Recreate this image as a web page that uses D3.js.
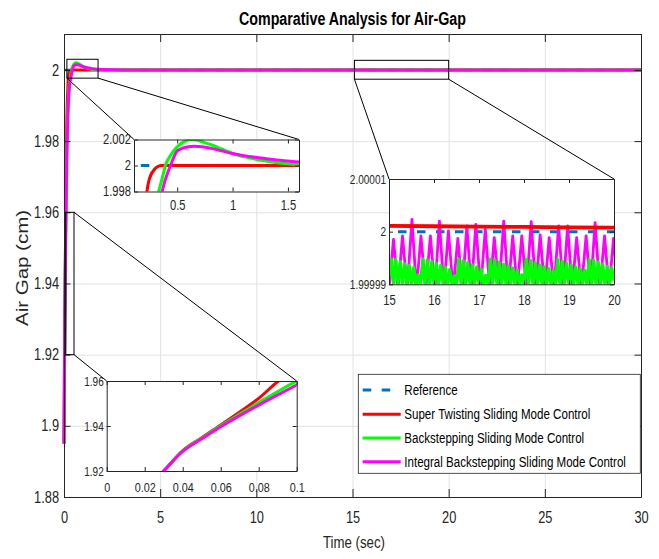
<!DOCTYPE html>
<html><head><meta charset="utf-8">
<script src="https://cdn.jsdelivr.net/npm/d3@7"></script>
<style>
body{margin:0;background:#fff}
svg{display:block}
text{font-family:"Liberation Sans",Arial,Helvetica,sans-serif}
</style>
</head><body>
<svg id="c" width="659" height="559"></svg>
<script>
// ---------------- DATA ----------------
const time = [0,0.01,0.02,0.03,0.04,0.05,0.06,0.07,0.08,0.09,0.1,0.12,0.15,0.2,0.227,0.25,0.3,0.333,0.35,0.364,0.394,0.4,0.44,0.5,0.55,0.62,0.65,0.7,0.77,0.83,0.9,1.0,1.1,1.26,1.4,1.5,1.6,2,3,5,10,15,20,25,30];
const superTwisting = [1.895,1.903,1.9115,1.92,1.9291,1.9348,1.9404,1.9462,1.9523,1.9597,1.9655,1.9755,1.9862,1.9950,1.9980,1.9990,1.99975,1.99995,2.0,
  2.0,2.0,2.0,2.0,2.0,2.0,2.0,2.0,2.0,2.0,2.0,2.0,2.0,2.0,2.0,2.0,2.0,2.0,2.0,2.0,2.0,2.0,2.0,2.0,2.0,2.0];
const backstepping = [1.895,1.903,1.9115,1.92,1.9289,1.9346,1.9401,1.9453,1.9504,1.9553,1.96,1.968,1.978,1.9885,1.9918,1.9942,1.9970,1.9980,1.99855,1.9990,2.0,2.00015,2.00078,2.00143,2.00178,2.0020,2.00199,2.0019,2.0017,2.00152,2.00127,2.00092,2.00068,2.0004,2.00022,2.00013,2.00006,
  2.0,2.0,2.0,2.0,2.0,2.0,2.0,2.0];
const integralBackstepping = [1.895,1.903,1.9115,1.92,1.9287,1.9343,1.9397,1.9446,1.9493,1.9538,1.9582,1.9662,1.9762,1.9870,1.9905,1.9930,1.9962,1.9972,1.9976,1.9980,1.99895,1.9991,2.0,2.00112,2.00133,2.00146,2.00149,2.00146,2.00139,2.00128,2.00113,2.00092,2.00076,2.00058,2.00042,2.00034,2.00026,2.0001,
  2.0,2.0,2.0,2.0,2.0,2.0,2.0];
const refTime = [0,30];
const refValue = [2,2];

// steady-state detail (15 .. 20 s)
const ssRedTime = [15,16,17,18,19,20];
const ssSuperTwisting = [2.0000011,2.00000103,2.00000096,2.00000089,2.00000082,2.00000075];
const ssIbsTime = [15.0,15.10,15.2,15.30,15.405,15.51,15.61,15.71,15.815,15.92,16.02,16.12,16.22,16.32,16.425,16.53,16.63,16.73,16.83,16.93,
  17.035,17.14,17.24,17.34,17.445,17.55,17.65,17.75,17.85,17.95,18.055,18.16,18.26,18.36,18.46,18.56,18.665,18.77,18.87,18.97,
  19.07,19.17,19.275,19.38,19.48,19.58,19.685,19.79,19.89,19.99,20.09];
const ssIntegralBackstepping = [1.999989,1.99999855,1.999989,1.99999918,1.999989,2.00000233,1.999989,1.99999918,1.999989,1.99999918,
  1.999989,2.000002,1.999989,2.00000013,1.999989,1.99999874,1.999989,2.00000107,1.999989,2.00000138,
  1.999989,2.00000044,1.999989,1.99999887,1.999989,2.000002,1.999989,1.99999918,1.999989,1.99999918,
  1.999989,2.00000189,1.999989,1.99999937,1.999989,1.99999887,1.999989,2.00000107,1.999989,2.00000107,
  1.999989,1.99999887,1.999989,1.99999918,1.999989,2.0000017,1.999989,1.99999918,1.999989,1.99999874,1.999989];
const ssBsStart = 15, ssBsStep = 0.05;
const ssBackstepping = [1.9999914,1.9999948,1.99999,1.9999947,1.9999902,1.9999943,1.9999899,1.9999939,1.9999901,1.9999936,
  1.9999898,1.9999932,1.99999,1.9999918,1.9999899,1.9999948,1.9999901,1.9999946,1.9999898,1.9999943,
  1.99999,1.999994,1.9999899,1.9999936,1.9999902,1.9999932,1.9999898,1.9999928,1.99999,1.9999916,
  1.9999899,1.9999948,1.9999901,1.9999945,1.9999898,1.9999941,1.9999901,1.9999937,1.9999899,1.9999933,
  1.99999,1.9999929,1.9999898,1.9999917,1.99999,1.9999948,1.9999901,1.9999946,1.9999899,1.9999942,
  1.9999902,1.9999938,1.9999898,1.9999935,1.9999901,1.9999931,1.9999899,1.9999927,1.99999,1.9999918,
  1.9999899,1.9999948,1.9999901,1.9999945,1.9999898,1.9999941,1.9999902,1.9999937,1.9999899,1.9999933,
  1.99999,1.999993,1.9999898,1.9999926,1.9999901,1.9999947,1.9999899,1.9999944,1.9999901,1.999994,
  1.9999898,1.9999937,1.99999,1.9999933,1.9999899,1.999993,1.9999902,1.9999927,1.9999898,1.9999947,
  1.99999,1.9999946,1.9999899,1.9999942,1.9999901,1.9999938,1.9999898,1.9999934,1.99999,1.9999931,1.9999907];

const xTicks = [0,5,10,15,20,25,30];
const xTickLabels = ["0","5","10","15","20","25","30"];
const yTicks = [1.88,1.9,1.92,1.94,1.96,1.98,2];
const yTickLabels = ["1.88","1.9","1.92","1.94","1.96","1.98","2"];

const in1XTicks = [0.5,1,1.5], in1XLabels = ["0.5","1","1.5"];
const in1YTicks = [1.998,2,2.002], in1YLabels = ["1.998","2","2.002"];
const in2XTicks = [15,16,17,18,19,20], in2XLabels = ["15","16","17","18","19","20"];
const in2YTicks = [1.99999,2,2.00001], in2YLabels = ["1.99999","2","2.00001"];
const in3XTicks = [0,0.02,0.04,0.06,0.08,0.1], in3XLabels = ["0","0.02","0.04","0.06","0.08","0.1"];
const in3YTicks = [1.92,1.94,1.96], in3YLabels = ["1.92","1.94","1.96"];

const seriesNames = ["Reference","Super Twisting Sliding Mode Control","Backstepping Sliding Mode Control","Integral Backstepping Sliding Mode Control"];
const seriesColors = ["#0072BD","#FF0000","#00FF00","#FF00FF"];

// ---------------- DRAW ----------------
const svg = d3.select('#c');
const defs = svg.append('defs');
const AX = '#262626';
const DASH = '8.5,10.5';
const M = {l:64, r:641, t:34, b:497};
const x = d3.scaleLinear().domain([0,30]).range([M.l, M.r]);
const y = d3.scaleLinear().domain([1.88, 2.0101]).range([M.b, M.t]);

function squeeze(sel, f){
  sel.each(function(){
    const L = this.getComputedTextLength();
    if (L > 0){ this.setAttribute('textLength', L*f); this.setAttribute('lengthAdjust','spacingAndGlyphs'); }
  });
}
function pts(ts, vs){ return ts.map((t,i)=>[t, vs[i]]); }
function ptsStep(start, step, vs){ return vs.map((v,i)=>[start + i*step, v]); }
function drawLine(g, sx, sy, data, color, width, dash, curve){
  const p = g.append('path').datum(data)
    .attr('d', d3.line().x(d=>sx(d[0])).y(d=>sy(d[1])).curve(curve || d3.curveLinear))
    .attr('fill','none').attr('stroke',color).attr('stroke-width',width)
    .attr('stroke-linejoin','round');
  if (dash) p.attr('stroke-dasharray', dash);
  return p;
}
function styleAxis(g, fs){
  g.attr('font-family',null).attr('font-size',null);
  g.select('.domain').attr('stroke',AX).attr('stroke-width',1);
  g.selectAll('.tick line').attr('stroke',AX).attr('stroke-width',1);
  g.selectAll('.tick text').attr('fill',AX).style('font-size',fs+'px');
}

// grid
svg.append('g').attr('transform',`translate(0,${M.b})`)
  .call(d3.axisBottom(x).tickValues(xTicks).tickSize(-(M.b-M.t)).tickFormat(''))
  .call(g=>{g.select('.domain').remove(); g.selectAll('line').attr('stroke','#e2e2e2');});
svg.append('g').attr('transform',`translate(${M.l},0)`)
  .call(d3.axisLeft(y).tickValues(yTicks).tickSize(-(M.r-M.l)).tickFormat(''))
  .call(g=>{g.select('.domain').remove(); g.selectAll('line').attr('stroke','#e2e2e2');});

// main lines
defs.append('clipPath').attr('id','clipMain').append('rect')
  .attr('x',M.l-3).attr('y',M.t).attr('width',M.r-M.l+3).attr('height',M.b-M.t);
const mg = svg.append('g').attr('clip-path','url(#clipMain)');
drawLine(mg, x, y, pts(refTime, refValue), seriesColors[0], 2.5, DASH);
drawLine(mg, x, y, pts(time, superTwisting), seriesColors[1], 3, null, d3.curveMonotoneX);
drawLine(mg, x, y, pts(time, backstepping), seriesColors[2], 3, null, d3.curveMonotoneX);
drawLine(mg, x, y, pts(time, integralBackstepping), seriesColors[3], 3, null, d3.curveMonotoneX);

// main axes
const gB = svg.append('g').attr('transform',`translate(0,${M.b})`)
  .call(d3.axisBottom(x).tickValues(xTicks).tickFormat((d,i)=>xTickLabels[i]).tickSizeInner(-8).tickSizeOuter(0).tickPadding(14.6));
styleAxis(gB, 16);
const gL = svg.append('g').attr('transform',`translate(${M.l},0)`)
  .call(d3.axisLeft(y).tickValues(yTicks).tickFormat((d,i)=>yTickLabels[i]).tickSizeInner(-6.5).tickSizeOuter(0).tickPadding(5));
styleAxis(gL, 16);
const gT = svg.append('g').attr('transform',`translate(0,${M.t})`)
  .call(d3.axisTop(x).tickValues(xTicks).tickFormat('').tickSizeInner(-8).tickSizeOuter(0));
styleAxis(gT, 16);
const gR = svg.append('g').attr('transform',`translate(${M.r},0)`)
  .call(d3.axisRight(y).tickValues(yTicks).tickFormat('').tickSizeInner(-6.5).tickSizeOuter(0));
styleAxis(gR, 16);
squeeze(gB.selectAll('.tick text'), 0.8);
squeeze(gL.selectAll('.tick text'), 0.8);

// zoom rectangles and connectors
const zooms = [
  {xr:[0.15,1.77], yr:[1.9977,2.003], box:[134,299,139.5,191.5], conn:[['bl','tl'],['br','tr']]},
  {xr:[15.1,20], yr:[1.9974,2.0027], box:[389,614,179,284.3], conn:[['bl','tl'],['br','tr']]},
  {xr:[0.09,0.52], yr:[1.92,1.96], box:[106.7,296.7,381,471], conn:[['tr','tr'],['br','tl']]}
];
zooms.forEach(z=>{
  const x0 = x(z.xr[0]), x1 = x(z.xr[1]), y0 = y(z.yr[1]), y1 = y(z.yr[0]);
  svg.append('rect').attr('x',x0).attr('y',y0).attr('width',x1-x0).attr('height',y1-y0)
    .attr('fill','none').attr('stroke','#000').attr('stroke-width',1);
  const rc = {tl:[x0,y0], tr:[x1,y0], bl:[x0,y1], br:[x1,y1]};
  const b = z.box;
  const ic = {tl:[b[0],b[2]], tr:[b[1],b[2]], bl:[b[0],b[3]], br:[b[1],b[3]]};
  z.conn.forEach(c=>{
    svg.append('line').attr('x1',rc[c[0]][0]).attr('y1',rc[c[0]][1])
      .attr('x2',ic[c[1]][0]).attr('y2',ic[c[1]][1]).attr('stroke','#000').attr('stroke-width',1);
  });
});

// insets
function makeInset(cfg){
  const [bx0,bx1,by0,by1] = cfg.box;
  const g = svg.append('g');
  const sx = d3.scaleLinear().domain(cfg.xDomain).range([bx0,bx1]);
  const sy = d3.scaleLinear().domain(cfg.yDomain).range([by1,by0]);
  g.append('rect').attr('x',bx0).attr('y',by0).attr('width',bx1-bx0).attr('height',by1-by0).attr('fill','#fff');
  defs.append('clipPath').attr('id','clip'+cfg.id).append('rect')
    .attr('x',bx0).attr('y',by0).attr('width',bx1-bx0).attr('height',by1-by0);
  const lg = g.append('g').attr('clip-path',`url(#clip${cfg.id})`);
  cfg.series.forEach(s=>drawLine(lg, sx, sy, s.data, s.color, s.width, s.dash, s.curve));
  const tk = 4;
  const b = g.append('g').attr('transform',`translate(0,${by1})`)
    .call(d3.axisBottom(sx).tickValues(cfg.xTicks).tickFormat((d,i)=>cfg.xLabels[i]).tickSizeInner(-tk).tickSizeOuter(0).tickPadding(cfg.xPad));
  styleAxis(b, cfg.xfs);
  const l = g.append('g').attr('transform',`translate(${bx0},0)`)
    .call(d3.axisLeft(sy).tickValues(cfg.yTicks).tickFormat((d,i)=>cfg.yLabels[i]).tickSizeInner(-tk).tickSizeOuter(0).tickPadding(3));
  styleAxis(l, cfg.yfs);
  const t = g.append('g').attr('transform',`translate(0,${by0})`)
    .call(d3.axisTop(sx).tickValues(cfg.xTicks).tickFormat('').tickSizeInner(-tk).tickSizeOuter(0));
  styleAxis(t, 12);
  const r = g.append('g').attr('transform',`translate(${bx1},0)`)
    .call(d3.axisRight(sy).tickValues(cfg.yTicks).tickFormat('').tickSizeInner(-tk).tickSizeOuter(0));
  styleAxis(r, 12);
  squeeze(b.selectAll('.tick text'), 0.8);
  squeeze(l.selectAll('.tick text'), 0.8);
}

makeInset({id:1, box:zooms[0].box, xDomain:[0.11,1.6], yDomain:[1.998,2.002],
  xTicks:in1XTicks, xLabels:in1XLabels, yTicks:in1YTicks, yLabels:in1YLabels, xfs:14, yfs:14, xPad:9,
  series:[
    {data:pts(refTime, refValue), color:seriesColors[0], width:3, dash:DASH},
    {data:pts(time, superTwisting), color:seriesColors[1], width:3, curve:d3.curveMonotoneX},
    {data:pts(time, backstepping), color:seriesColors[2], width:3, curve:d3.curveMonotoneX},
    {data:pts(time, integralBackstepping), color:seriesColors[3], width:3, curve:d3.curveMonotoneX}
  ]});
makeInset({id:2, box:zooms[1].box, xDomain:[15,20], yDomain:[1.99999,2.00001],
  xTicks:in2XTicks, xLabels:in2XLabels, yTicks:in2YTicks, yLabels:in2YLabels, xfs:14, yfs:12.5, xPad:10.7,
  series:[
    {data:pts(refTime, refValue), color:seriesColors[0], width:3, dash:DASH},
    {data:pts(ssIbsTime, ssIntegralBackstepping), color:seriesColors[3], width:2.8},
    {data:ptsStep(ssBsStart, ssBsStep, ssBackstepping), color:seriesColors[2], width:3.2},
    {data:pts(ssRedTime, ssSuperTwisting), color:seriesColors[1], width:3.8}
  ]});
makeInset({id:3, box:zooms[2].box, xDomain:[0,0.1], yDomain:[1.92,1.96],
  xTicks:in3XTicks, xLabels:in3XLabels, yTicks:in3YTicks, yLabels:in3YLabels, xfs:13.5, yfs:12.5, xPad:11,
  series:[
    {data:pts(refTime, refValue), color:seriesColors[0], width:3, dash:DASH},
    {data:pts(time, superTwisting), color:seriesColors[1], width:3, curve:d3.curveMonotoneX},
    {data:pts(time, backstepping), color:seriesColors[2], width:3, curve:d3.curveMonotoneX},
    {data:pts(time, integralBackstepping), color:seriesColors[3], width:3, curve:d3.curveMonotoneX}
  ]});

// legend
const LG = {x:358.3, y:374.3, w:282, h:99};
const leg = svg.append('g');
leg.append('rect').attr('x',LG.x).attr('y',LG.y).attr('width',LG.w).attr('height',LG.h)
  .attr('fill','#fff').attr('stroke',AX).attr('stroke-width',0.8);
const rowY = [390, 414.2, 437.9, 461.7];
const legTexts = [];
seriesNames.forEach((n,i)=>{
  const ln = leg.append('line').attr('x1',362.7).attr('x2',400.7).attr('y1',rowY[i]).attr('y2',rowY[i])
    .attr('stroke',seriesColors[i]).attr('stroke-width',3);
  if (i===0) ln.attr('stroke-dasharray',DASH);
  legTexts.push(leg.append('text').attr('x',0).attr('y',0).attr('dy','0.35em')
    .style('font-size','15px').attr('fill','#000').text(n));
});
const longest = legTexts[3].node().getComputedTextLength();
const lf = 222/longest;
legTexts.forEach((t,i)=>t.attr('transform',`translate(404.3,${rowY[i]}) scale(${lf},1)`));

// title and labels
svg.append('text').attr('x',352.5).attr('y',25).attr('text-anchor','middle')
  .style('font-size','18px').style('font-weight','bold').attr('fill','#000')
  .attr('textLength',227).attr('lengthAdjust','spacingAndGlyphs')
  .text('Comparative Analysis for Air-Gap');
svg.append('text').attr('x',354).attr('y',548).attr('text-anchor','middle')
  .style('font-size','16px').attr('fill',AX)
  .attr('textLength',62).attr('lengthAdjust','spacingAndGlyphs')
  .text('Time (sec)');
svg.append('text').attr('transform','translate(27.5,268) rotate(-90)').attr('text-anchor','middle')
  .style('font-size','16px').attr('fill',AX)
  .attr('textLength',116).attr('lengthAdjust','spacingAndGlyphs')
  .text('Air Gap (cm)');
</script>
</body></html>
